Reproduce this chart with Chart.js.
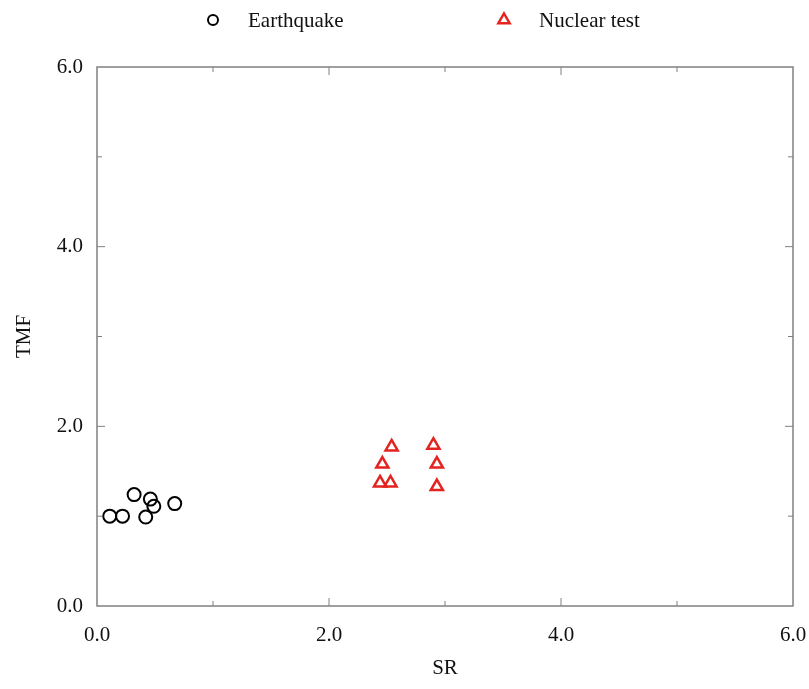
<!DOCTYPE html>
<html>
<head>
<meta charset="utf-8">
<script src="https://cdn.jsdelivr.net/npm/chart.js@4"></script>
<style>
  html, body { margin: 0; padding: 0; background: #fff; }
  #wrap { width: 809px; height: 689px; }
</style>
</head>
<body>
<div id="wrap"><canvas id="scatterChart" width="809" height="689"></canvas></div>
<script>
// values
const eqSR  = [0.11, 0.22, 0.32, 0.46, 0.42, 0.49, 0.67];
const eqTMF = [1.00, 1.00, 1.24, 1.19, 0.99, 1.11, 1.14];
const ntSR  = [2.54, 2.46, 2.44, 2.53, 2.90, 2.93, 2.93];
const ntTMF = [1.77, 1.58, 1.37, 1.37, 1.79, 1.58, 1.33];
const seriesNames = ["Earthquake", "Nuclear test"];
const axisMin = 0, axisMax = 6;

const toPoints = (xs, ys) => xs.map((x, i) => ({ x: x, y: ys[i] }));
const serif = "'Liberation Serif', 'DejaVu Serif', serif";

// frame, inward ticks and legend drawn by hand
const framePlugin = {
    id: 'frame',
    afterDraw(chart) {
        const c = chart.ctx, a = chart.chartArea;
        const xs = chart.scales.x, ys = chart.scales.y;
        c.save();
        c.strokeStyle = '#808080';
        c.lineWidth = 1.5;
        c.strokeRect(a.left, a.top, a.right - a.left, a.bottom - a.top);
        c.lineWidth = 1;
        for (let v = axisMin + 1; v < axisMax; v++) {
            const len = v % 2 === 0 ? 8 : 5;
            const px = xs.getPixelForValue(v), py = ys.getPixelForValue(v);
            c.beginPath();
            c.moveTo(px, a.bottom); c.lineTo(px, a.bottom - len);
            c.moveTo(px, a.top); c.lineTo(px, a.top + len);
            c.moveTo(a.left, py); c.lineTo(a.left + len, py);
            c.moveTo(a.right, py); c.lineTo(a.right - len, py);
            c.stroke();
        }
        // legend
        const spots = [213, 504];
        chart.data.datasets.forEach((ds, i) => {
            c.fillStyle = 'rgba(0,0,0,0)';
            c.strokeStyle = ds.borderColor;
            c.lineWidth = ds.borderWidth;
            Chart.helpers.drawPoint(c, {
                pointStyle: ds.pointStyle, radius: i === 0 ? 5 : 6.5, borderWidth: ds.borderWidth
            }, spots[i], 20);
            c.fillStyle = '#111';
            c.font = '21px ' + serif;
            c.textBaseline = 'middle';
            c.fillText(ds.label, spots[i] + 35, 21);
        });
        c.restore();
    }
};

new Chart(document.getElementById('scatterChart').getContext('2d'), {
    type: 'scatter',
    data: {
        datasets: [
            {
                label: seriesNames[0],
                data: toPoints(eqSR, eqTMF),
                pointStyle: 'circle',
                pointRadius: 6.5,
                borderColor: '#000',
                backgroundColor: 'rgba(0,0,0,0)',
                borderWidth: 2
            },
            {
                label: seriesNames[1],
                data: toPoints(ntSR, ntTMF),
                pointStyle: 'triangle',
                pointRadius: 7,
                borderColor: '#e3231f',
                backgroundColor: 'rgba(0,0,0,0)',
                borderWidth: 2.5
            }
        ]
    },
    options: {
        responsive: false,
        animation: false,
        layout: { padding: { top: 67, right: 16, left: 12, bottom: 8 } },
        plugins: {
            legend: { display: false },
            tooltip: { enabled: false }
        },
        scales: {
            x: {
                type: 'linear', min: axisMin, max: axisMax,
                grid: { display: false },
                border: { display: false },
                ticks: {
                    stepSize: 2, padding: 9, color: '#111',
                    font: { family: serif, size: 21 },
                    callback: v => v.toFixed(1)
                },
                title: {
                    display: true, text: 'SR', color: '#111',
                    font: { family: serif, size: 21 },
                    padding: { top: 12, bottom: 0 }
                },
                afterFit: s => { s.height = 75; s.paddingLeft = 0; s.paddingRight = 0; }
            },
            y: {
                type: 'linear', min: axisMin, max: axisMax,
                grid: { display: false },
                border: { display: false },
                ticks: {
                    stepSize: 2, padding: 6, color: '#111',
                    font: { family: serif, size: 21 },
                    callback: v => v.toFixed(1)
                },
                title: {
                    display: true, text: 'TMF', color: '#111',
                    font: { family: serif, size: 21 },
                    padding: { top: 0, bottom: 18 }
                },
                afterFit: s => { s.width = 85; s.paddingTop = 0; s.paddingBottom = 0; }
            }
        }
    },
    plugins: [framePlugin]
});
</script>
</body>
</html>
